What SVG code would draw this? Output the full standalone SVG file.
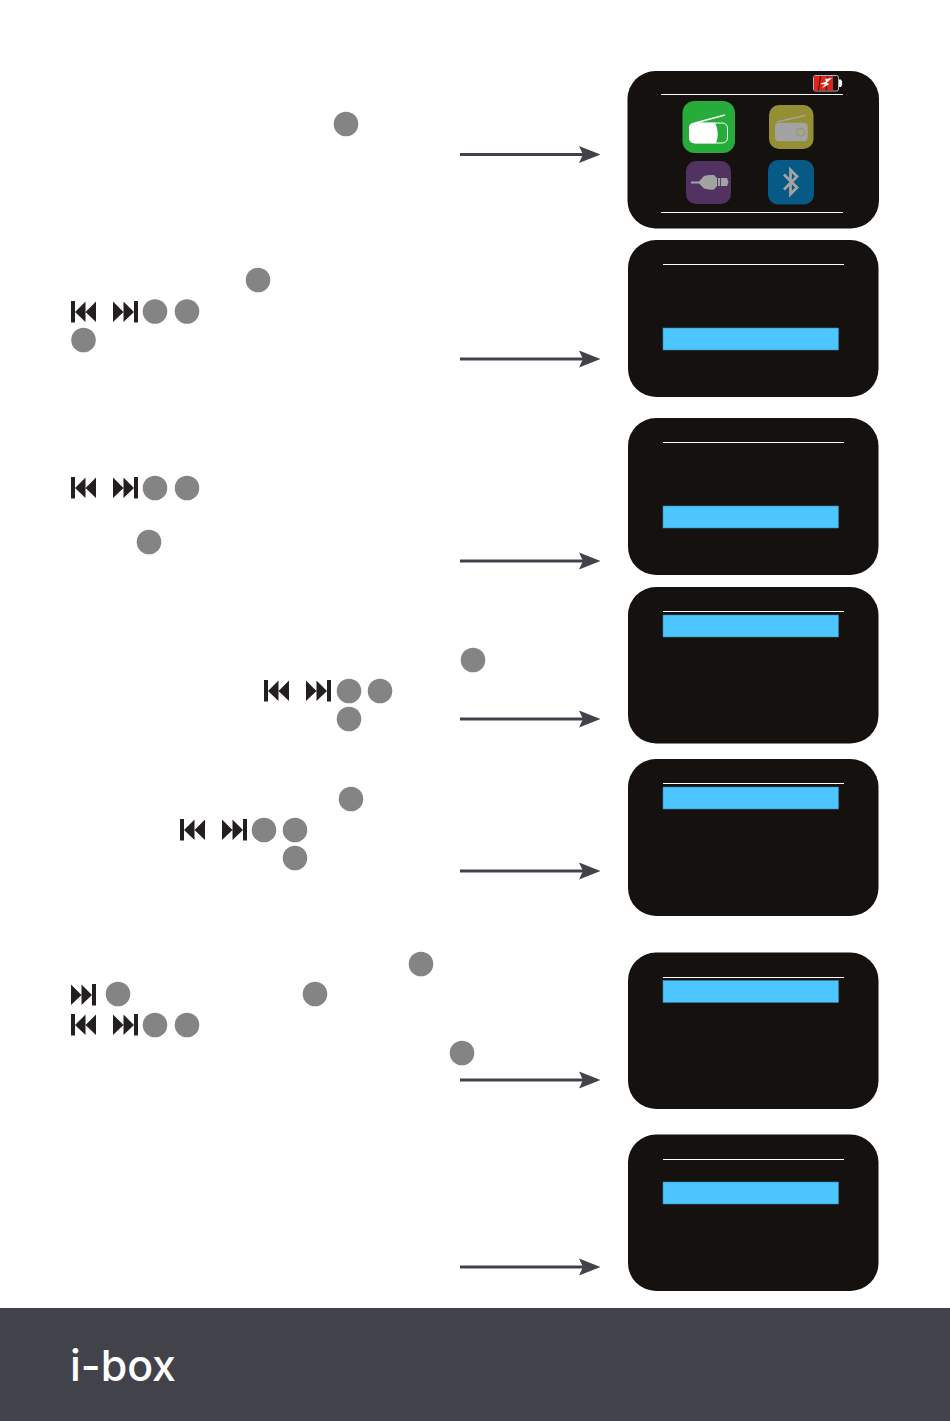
<svg xmlns="http://www.w3.org/2000/svg" width="950" height="1421" viewBox="0 0 950 1421">
<style>
.screen{fill:#14110e}
.rule{stroke:#fff;stroke-width:1.2;fill:none}
.bar{fill:#4dc6ff;stroke:#2f85ab;stroke-width:.6}
.btn{fill:#848484}
.arrow{stroke:#42424b;stroke-width:3;fill:none;marker-end:url(#head)}
.glyph{fill:#231f20}
.ico{fill:#a3a3a3}
</style>
<defs>
<marker id="head" markerUnits="userSpaceOnUse" markerWidth="24" markerHeight="20" refX="6" refY="8.500" orient="auto" overflow="visible"><path d="M0 0L21.500 8.500L0 17L4 8.500Z" fill="#42424b"/></marker>
<g id="prev"><rect x="0" y="-11" width="4" height="21.500" class="glyph"/><path class="glyph" d="M14.500-10.500V10L4 0ZM25-10.500V10L14.500 0Z"/></g>
<g id="next"><rect x="21" y="-11" width="4" height="21.500" class="glyph"/><path class="glyph" d="M0-10.500V10L10.500 0ZM10.500-10.500V10L21 0Z"/></g>
</defs>
<rect width="950" height="1421" fill="#fff"/>
<g id="connectors">
<line class="arrow" x1="460" y1="154.500" x2="585" y2="154.500"/>
<line class="arrow" x1="460" y1="359" x2="585" y2="359"/>
<line class="arrow" x1="460" y1="561" x2="585" y2="561"/>
<line class="arrow" x1="460" y1="719" x2="585" y2="719"/>
<line class="arrow" x1="460" y1="871" x2="585" y2="871"/>
<line class="arrow" x1="460" y1="1080" x2="585" y2="1080"/>
<line class="arrow" x1="460" y1="1267" x2="585" y2="1267"/>
</g>
<g id="buttons">
<circle class="btn" cx="346" cy="124" r="12.300"/>
<circle class="btn" cx="258" cy="280" r="12.300"/>
<circle class="btn" cx="155" cy="311.500" r="12.300"/><circle class="btn" cx="187" cy="311.500" r="12.300"/><circle class="btn" cx="83.500" cy="340" r="12.300"/>
<circle class="btn" cx="155" cy="488" r="12.300"/><circle class="btn" cx="187" cy="488" r="12.300"/><circle class="btn" cx="149" cy="542" r="12.300"/>
<circle class="btn" cx="473" cy="660" r="12.300"/><circle class="btn" cx="349" cy="691" r="12.300"/><circle class="btn" cx="380" cy="691" r="12.300"/><circle class="btn" cx="349" cy="719" r="12.300"/>
<circle class="btn" cx="351" cy="799" r="12.300"/><circle class="btn" cx="264" cy="830" r="12.300"/><circle class="btn" cx="295" cy="830" r="12.300"/><circle class="btn" cx="295" cy="858" r="12.300"/>
<circle class="btn" cx="421" cy="964" r="12.300"/><circle class="btn" cx="118" cy="994" r="12.300"/><circle class="btn" cx="315" cy="994" r="12.300"/><circle class="btn" cx="155" cy="1025" r="12.300"/><circle class="btn" cx="187" cy="1025" r="12.300"/><circle class="btn" cx="462" cy="1053" r="12.300"/>
<use href="#prev" x="71" y="312"/><use href="#next" x="113" y="312"/>
<use href="#prev" x="71" y="488"/><use href="#next" x="113" y="488"/>
<use href="#prev" x="264" y="691"/><use href="#next" x="306" y="691"/>
<use href="#prev" x="180" y="830"/><use href="#next" x="222" y="830"/>
<use href="#next" x="71" y="995"/>
<use href="#prev" x="71" y="1025"/><use href="#next" x="113" y="1025"/>
</g>
<g id="screen-1">
<rect class="screen" x="627.500" y="71" width="251.500" height="157.500" rx="28"/>
<line class="rule" x1="661" y1="94.500" x2="843" y2="94.500"/><line class="rule" x1="661" y1="212.500" x2="843" y2="212.500"/>
<rect x="813.500" y="75.500" width="25" height="15.500" rx="2" fill="#14110e" stroke="#ddd" stroke-width=".8"/>
<rect x="814" y="76" width="19" height="14.500" fill="#e2231a"/>
<path d="M820.500 76L818.500 90.500M828 76L826 90.500" stroke="#14110e" stroke-width=".9"/>
<path d="M820 84L826 81.500L825 79L832 78L827 82.500L829 84.500L822 88L825 84.500Z" fill="#fff"/>
<path d="M839 79.500H841Q843.500 83 841 87H839Z" fill="#fff"/>
<rect x="682.500" y="101" width="52.500" height="52" rx="12" fill="#27ab3b"/>
<path d="M695 123L725 115" stroke="#fff" stroke-width="1.500"/>
<rect x="690" y="123" width="37.500" height="20" rx="5" fill="#27ab3b" stroke="#fff" stroke-width="1"/>
<path d="M695 122.700H715Q720 133 716 143.300H695Q689 143.300 689 138V128Q689 122.700 695 122.700Z" fill="#fff"/>
<rect x="769" y="105" width="44.500" height="44" rx="10" fill="#958f33"/>
<path d="M777 122L805 115.500" stroke="#a3a3a3" stroke-width="1.400"/>
<rect x="775" y="122.700" width="32.700" height="18.500" rx="4" class="ico"/>
<circle cx="800.700" cy="132.300" r="4" fill="none" stroke="#958f33" stroke-width=".7"/>
<rect x="686" y="161" width="45" height="43" rx="10" fill="#513260"/>
<path d="M691 181.500H699L704 176Q708 174.500 714 175L717 178H727L728.500 182.300L727 186H717L714 189.500Q708 190 704 188.500L699 183.500H691Z" class="ico"/>
<path d="M717.500 178V186M720.500 178V186" stroke="#513260" stroke-width=".9"/>
<rect x="768" y="160" width="46" height="44.500" rx="10" fill="#075a85"/>
<path d="M784 174.500L797 187.500L790.500 194V170L797 176.500L784 189.500" fill="none" stroke="#a3a3a3" stroke-width="2.800"/>
</g>
<g id="screen-2"><rect class="screen" x="628" y="240" width="250.500" height="157" rx="28"/><line class="rule" x1="663" y1="264.500" x2="844" y2="264.500"/><rect class="bar" x="663" y="328" width="175.500" height="22"/></g>
<g id="screen-3"><rect class="screen" x="628" y="418" width="250.500" height="157" rx="28"/><line class="rule" x1="663" y1="442.500" x2="844" y2="442.500"/><rect class="bar" x="663" y="506" width="175.500" height="22"/></g>
<g id="screen-4"><rect class="screen" x="628" y="587" width="250.500" height="156.500" rx="28"/><line class="rule" x1="663" y1="611.500" x2="844" y2="611.500"/><rect class="bar" x="663" y="615" width="175.500" height="22"/></g>
<g id="screen-5"><rect class="screen" x="628" y="759" width="250.500" height="157" rx="28"/><line class="rule" x1="663" y1="783.500" x2="844" y2="783.500"/><rect class="bar" x="663" y="787" width="175.500" height="22"/></g>
<g id="screen-6"><rect class="screen" x="628" y="952.500" width="250.500" height="156.500" rx="28"/><line class="rule" x1="663" y1="977.500" x2="844" y2="977.500"/><rect class="bar" x="663" y="980.500" width="175.500" height="22"/></g>
<g id="screen-7"><rect class="screen" x="628" y="1134.500" width="250.500" height="156.500" rx="28"/><line class="rule" x1="663" y1="1159.500" x2="844" y2="1159.500"/><rect class="bar" x="663" y="1182" width="175.500" height="22"/></g>
<g id="footer">
<rect x="0" y="1308" width="950" height="113" fill="#42424b"/>
<text x="70" y="1381" font-family="Inter, Lato, sans-serif" font-size="43" font-weight="500" fill="#fff" textLength="106" lengthAdjust="spacingAndGlyphs">i-box</text>
</g>
</svg>
